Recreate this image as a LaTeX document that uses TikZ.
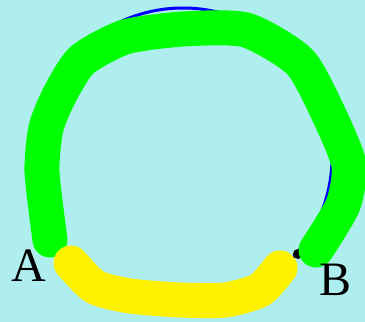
\documentclass[tikz,border=0pt]{standalone}
\usepackage{fontspec}
\setmainfont{Liberation Serif}
\usepackage{tikz}

\definecolor{bgturq}{RGB}{175,238,238}

\begin{document}
\begin{tikzpicture}[x=1pt,y=-1pt,
  stroke/.style={line width=35pt,line cap=round,line join=round},
  lbl/.style={font=\fontsize{48}{48}\selectfont,inner sep=0pt}]
\fill[bgturq] (0,0) rectangle (365,322);
\useasboundingbox (0,0) rectangle (365,322);
\draw[blue,line width=3pt] (183,157) circle (149);
\coordinate (B) at (298,254);
\fill (B) circle (5);
\draw[green,stroke] plot[smooth,tension=0.4] coordinates {(50,240) (42,172) (46,128) (60,94)
  (82,60) (125,37) (183,29) (246,30) (300,62) (330,117) (349,165) (343,205) (316,250)};
\draw[yellow,stroke] plot[smooth,tension=0.4] coordinates {(71,263) (95,287) (130,296) (180,300)
  (225,300) (260,290) (280,268)};
\node[lbl] (labA) at (29,266) {A};
\node[lbl] (labB) at (336,280) {B};
\end{tikzpicture}
\end{document}
